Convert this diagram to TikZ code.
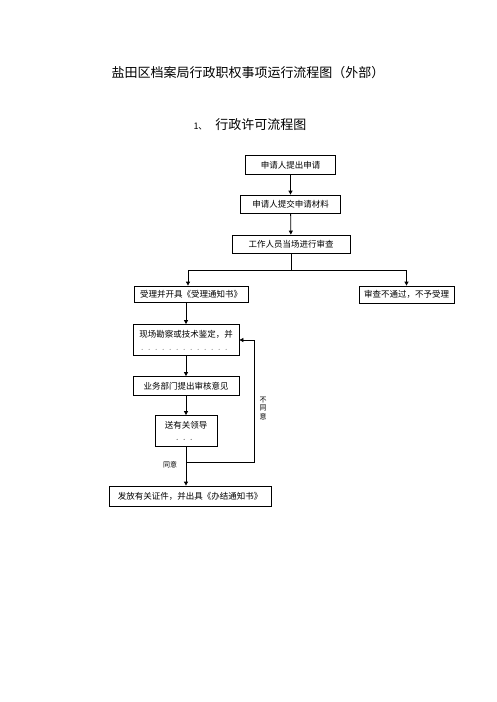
\documentclass[tikz,border=0pt]{standalone}
\usepackage{fontspec}
\newfontfamily\cjk{Noto Sans CJK SC}
\usetikzlibrary{arrows.meta}
\tikzset{
  box/.style={draw,thick,inner sep=0pt,align=center,font=\cjk\fontsize{8.5}{11}\selectfont},
  flow/.style={thick,-{Triangle[length=4pt,width=4pt]}}
}
\begin{document}
\begin{tikzpicture}[x=1pt,y=-1pt]
\useasboundingbox (0,0) rectangle (496,702);
% titles
\node (title) at (248,73) {\cjk\fontsize{13}{15}\selectfont 盐田区档案局行政职权事项运行流程图（外部）};
\node (sub) at (250,125) {\cjk\fontsize{9}{11}\selectfont 1、\hspace{8pt}{\fontsize{13}{15}\selectfont 行政许可流程图}};
% boxes
\node[box,minimum width=90pt,minimum height=19pt] (apply) at (290.5,165) {申请人提出申请};
\node[box,minimum width=100pt,minimum height=18pt] (submit) at (290.5,204) {申请人提交申请材料};
\node[box,minimum width=118pt,minimum height=18pt] (check) at (291,244) {工作人员当场进行审查};
\node[box,minimum width=114pt,minimum height=16pt] (accept) at (191,294) {受理并开具《受理通知书》};
\node[box,minimum width=95pt,minimum height=17pt] (reject) at (406.5,294.5) {审查不通过，不予受理};
\node[box,minimum width=106pt,minimum height=31pt] (survey) at (186,340) {现场勘察或技术鉴定，并\\[2pt]{\color{black!50}\scriptsize ．．．．．．．．．．．．．}};
\node[box,minimum width=106pt,minimum height=19pt] (opinion) at (186,386) {业务部门提出审核意见};
\node[box,minimum width=62pt,minimum height=31pt] (leader) at (186,431) {送有关领导\\[1pt]{\color{black!70}\scriptsize ．．．}};
\node[box,minimum width=162pt,minimum height=20pt] (issue) at (190,496) {发放有关证件，并出具《办结通知书》};
% connectors
\coordinate (split) at (291,270);
\coordinate (join) at (186,462);
\coordinate (back) at (254,462);
\draw[flow] (apply) -- (submit);
\draw[flow] (submit) -- (check);
\draw[thick] (check) -- (split);
\draw[flow] (split) -| (accept.north -| 188,0);
\draw[flow] (split) -| (reject);
\draw[flow] (accept.south -| survey) -- (survey);
\draw[flow] (survey) -- (opinion);
\draw[flow] (opinion) -- (leader);
\draw[flow] (leader) -- (issue.north -| join);
\draw[flow] (join) -- (back) |- (survey.east) node[pos=0.22,right=2pt,align=center,font=\cjk\fontsize{7}{8.5}\selectfont] {不\\同\\意};
\node[font=\cjk\fontsize{7}{8}\selectfont] (agree) at (170,465) {同意};
\end{tikzpicture}
\end{document}
